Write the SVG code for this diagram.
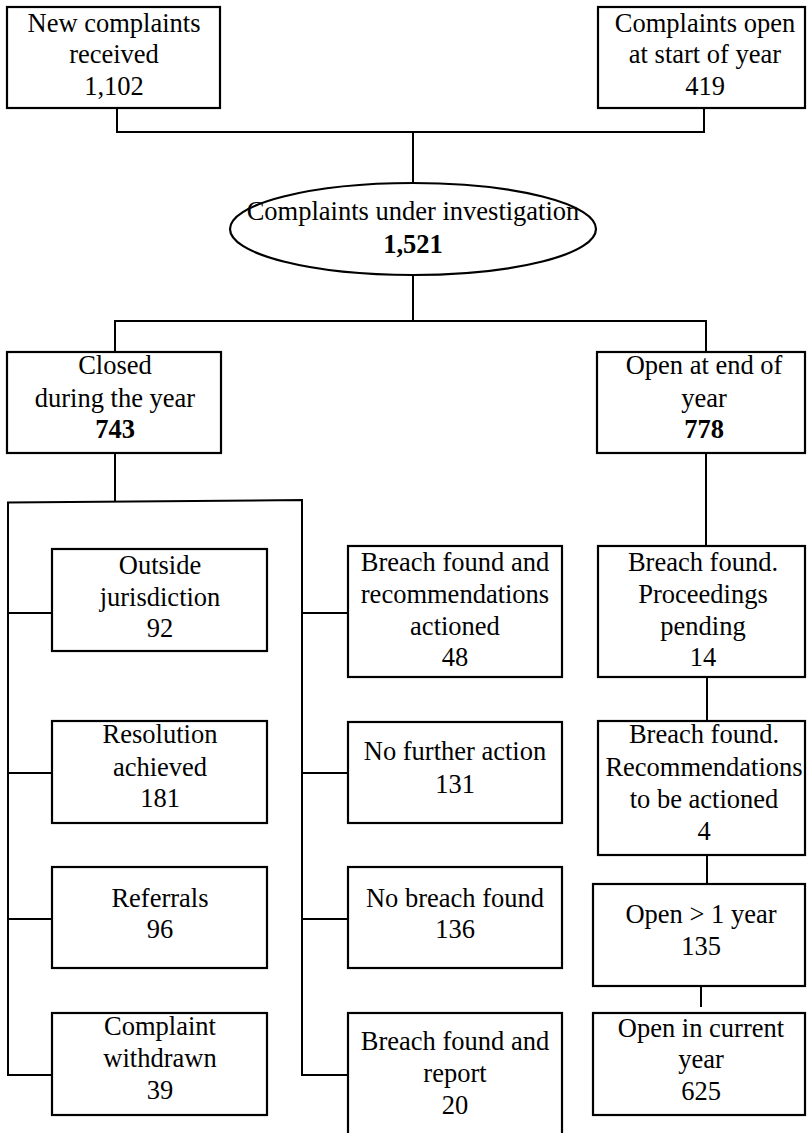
<svg xmlns="http://www.w3.org/2000/svg" width="807" height="1133" viewBox="0 0 807 1133">
<style>
.n rect,.n ellipse{fill:#fff;stroke:#000;stroke-width:2.2}
.c path{fill:none;stroke:#000;stroke-width:2}
text{font-family:"Liberation Serif","Times New Roman",serif;font-size:26.5px;text-anchor:middle;fill:#000}
.b{font-weight:bold}
</style>
<rect width="807" height="1133" fill="#fff"/>
<g class="c" id="connectors">
<path d="M117,108V132H704V108"/>
<path d="M413,132V183"/>
<path d="M413,275V321"/>
<path d="M115,352V321H706V352"/>
<path d="M115,453V502"/>
<path d="M52,613H8V502.5L302,500V1075H348"/>
<path d="M8,613V1075H52"/>
<path d="M8,773H52M8,919H52"/>
<path d="M302,613H348M302,773H348M302,919H348"/>
<path d="M706,453V546"/>
<path d="M707,677V721"/>
<path d="M707,855V884"/>
<path d="M701,984V1007"/>
</g>
<g class="n" id="n1"><rect x="7" y="7" width="213" height="101"/><text x="114" y="32">New complaints</text><text x="114" y="63">received</text><text x="114" y="95">1,102</text></g>
<g class="n" id="n2"><rect x="598" y="7" width="207" height="101"/><text x="705" y="32">Complaints open</text><text x="705" y="63">at start of year</text><text x="705" y="95">419</text></g>
<g class="n" id="n3"><ellipse cx="413" cy="229" rx="183" ry="46"/><text x="413" y="220">Complaints under investigation</text><text class="b" x="413" y="253">1,521</text></g>
<g class="n" id="n4"><rect x="7" y="352" width="214" height="101"/><text x="115" y="374">Closed</text><text x="115" y="407">during the year</text><text class="b" x="115" y="438">743</text></g>
<g class="n" id="n5"><rect x="597" y="352" width="208" height="101"/><text x="704" y="374">Open at end of</text><text x="704" y="407">year</text><text class="b" x="704" y="438">778</text></g>
<g class="n" id="n6"><rect x="52" y="549" width="215" height="102"/><text x="160" y="574">Outside</text><text x="160" y="606">jurisdiction</text><text x="160" y="637">92</text></g>
<g class="n" id="n7"><rect x="52" y="721" width="215" height="102"/><text x="160" y="743">Resolution</text><text x="160" y="776">achieved</text><text x="160" y="807">181</text></g>
<g class="n" id="n8"><rect x="52" y="867" width="215" height="101"/><text x="160" y="907">Referrals</text><text x="160" y="938">96</text></g>
<g class="n" id="n9"><rect x="52" y="1013" width="215" height="102"/><text x="160" y="1035">Complaint</text><text x="160" y="1067">withdrawn</text><text x="160" y="1099">39</text></g>
<g class="n" id="n10"><rect x="348" y="546" width="214" height="131"/><text x="455" y="571">Breach found and</text><text x="455" y="603">recommendations</text><text x="455" y="635">actioned</text><text x="455" y="666">48</text></g>
<g class="n" id="n11"><rect x="348" y="722" width="214" height="101"/><text x="455" y="760">No further action</text><text x="455" y="793">131</text></g>
<g class="n" id="n12"><rect x="348" y="867" width="214" height="101"/><text x="455" y="907">No breach found</text><text x="455" y="938">136</text></g>
<g class="n" id="n13"><rect x="348" y="1013" width="214" height="140"/><text x="455" y="1050">Breach found and</text><text x="455" y="1082">report</text><text x="455" y="1114">20</text></g>
<g class="n" id="n14"><rect x="598" y="546" width="207" height="131"/><text x="703" y="571">Breach found.</text><text x="703" y="603">Proceedings</text><text x="703" y="635">pending</text><text x="703" y="666">14</text></g>
<g class="n" id="n15"><rect x="598" y="721" width="207" height="134"/><text x="704" y="743">Breach found.</text><text x="704" y="776">Recommendations</text><text x="704" y="808">to be actioned</text><text x="704" y="840">4</text></g>
<g class="n" id="n16"><rect x="593" y="884" width="212" height="102"/><text x="701" y="923">Open &gt; 1 year</text><text x="701" y="955">135</text></g>
<g class="n" id="n17"><rect x="593" y="1013" width="212" height="102"/><text x="701" y="1037">Open in current</text><text x="701" y="1068">year</text><text x="701" y="1100">625</text></g>
</svg>
